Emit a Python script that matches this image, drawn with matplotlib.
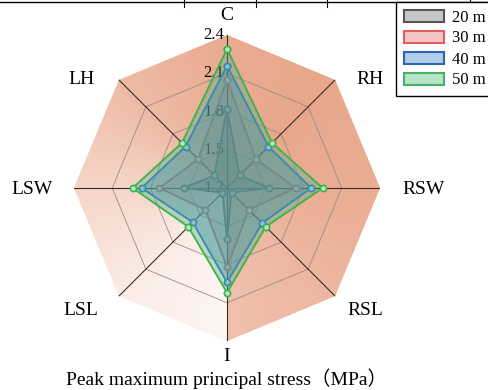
import numpy as np
import matplotlib
matplotlib.use('Agg')
import matplotlib.pyplot as plt
from matplotlib.patches import Patch
from matplotlib.lines import Line2D
from matplotlib.colors import LinearSegmentedColormap

plt.rcParams['font.family'] = ['Liberation Serif', 'Noto Sans CJK SC']

# axes of the radar, clockwise from the top
labels = ['C', 'RH', 'RSW', 'RSL', 'I', 'LSL', 'LSW', 'LH']
s20 = [1.82, 1.34, 1.53, 1.25, 1.60, 1.25, 1.54, 1.34]
s30 = [2.05, 1.52, 1.74, 1.44, 1.82, 1.44, 1.73, 1.52]
s40 = [2.16, 1.66, 1.86, 1.59, 1.94, 1.58, 1.87, 1.66]
s50 = [2.29, 1.70, 1.95, 1.63, 2.02, 1.63, 1.94, 1.70]
series_names = ['20 m', '30 m', '40 m', '50 m']
rticks = [1.2, 1.5, 1.8, 2.1, 2.4]

# label offsets (points) from the outer vertex of each axis
lab_off = [(0, 14), (25, 0), (31, -1), (22, -10), (0, -11), (-27, -10), (-30, -1), (-27, 0)]

line_cols = ['#555f5f', '#c06a6a', '#2a78c8', '#3cb44a']
fill_cols = ['#606868', '#c87878', '#3a80c0', '#50b088']
fill_alpha = [0.4, 0.3, 0.4, 0.38]
leg_face = ['#c8c8c8', '#f5c4c4', '#b4cbe8', '#b8e4c8']
leg_edge = ['#555555', '#e06060', '#2a66b8', '#48b068']

fig = plt.figure(figsize=(4.88, 3.9), dpi=100)
cx, cy, R = 227, 188, 153
ax = fig.add_axes([(cx - R) / 488, (390 - cy - R) / 390, 2 * R / 488, 2 * R / 390],
                  projection='polar')
ax.set_theta_zero_location('N')
ax.set_theta_direction(-1)
ax.set_ylim(1.2, 2.4)
ax.set_axis_off()

n = len(labels)
theta = np.arange(n) * 2 * np.pi / n
tc = np.append(theta, theta[0])
rmin, rmax = rticks[0], rticks[-1]

# background octagon with a conic gradient
oct_poly = ax.fill(tc, [rmax] * (n + 1), facecolor='none', edgecolor='none')[0]
th_e = np.linspace(0, 2 * np.pi, 721)
r_e = np.array([rmin, rmax])
th_c = (th_e[:-1] + th_e[1:]) / 2
phi = (np.degrees(th_c) - 180) % 360
f = np.interp(phi, [0, 45, 90, 135, 180, 225, 270, 315, 360],
              [0.0, 0.12, 0.4, 0.75, 0.95, 1.0, 0.92, 0.8, 0.68])
cmap = LinearSegmentedColormap.from_list('bg', ['#fdf5f1', '#e8a78b'])
mesh = ax.pcolormesh(th_e, r_e, f[np.newaxis, :], cmap=cmap, vmin=0, vmax=1,
                     shading='flat', zorder=0.5)
mesh.set_clip_path(oct_poly)

for v in rticks[1:-1]:
    ax.plot(tc, [v] * (n + 1), color='#9a8a86', lw=0.6, zorder=1)
for t in theta:
    ax.plot([t, t], [rmin, rmax], color='#3b2b28', lw=0.8, zorder=1)

for v in rticks:
    ax.annotate(f'{v:.1f}', xy=(0, v), xytext=(-2, 0), textcoords='offset points',
                ha='right', va='center', fontsize=12, zorder=1.5, annotation_clip=False)

for vals, lc, fc, a, lf in zip([s20, s30, s40, s50], line_cols, fill_cols, fill_alpha, leg_face):
    vc = np.append(vals, vals[0])
    ax.fill(tc, vc, color=fc, alpha=a, zorder=2)
    ax.plot(tc, vc, color=lc, lw=1.3, marker='o', ms=4.5, mfc=lf, mec=lc, mew=1.2, zorder=2)

for t, lab, off in zip(theta, labels, lab_off):
    ax.annotate(lab, xy=(t, rmax), xytext=off, textcoords='offset points',
                ha='center', va='center', fontsize=14, annotation_clip=False)

handles = [Patch(facecolor=fc, edgecolor=ec, lw=1.5, label=lab)
           for fc, ec, lab in zip(leg_face, leg_edge, series_names)]
leg = fig.legend(handles=handles, loc='upper left', bbox_to_anchor=(396 / 488, 1 - 2 / 390),
                 fancybox=False, edgecolor='black', framealpha=1, fontsize=12,
                 handlelength=2.4, handleheight=0.75, labelspacing=0.3, borderpad=0.45,
                 handletextpad=0.5, borderaxespad=0)
leg.get_frame().set_linewidth(1.0)

# table border left over at the top of the figure
fig.add_artist(Line2D([0, 1], [1 - 2 / 390] * 2, transform=fig.transFigure, color='black', lw=1.0))
for xp in [184, 256, 327, 470]:
    fig.add_artist(Line2D([xp / 488] * 2, [1, 1 - 7 / 390], transform=fig.transFigure,
                          color='black', lw=0.8))

fig.text(227 / 488, 5 / 390, 'Peak maximum principal stress（MPa）', ha='center',
         va='baseline', fontsize=14)

fig.savefig('out.png', dpi=100)
